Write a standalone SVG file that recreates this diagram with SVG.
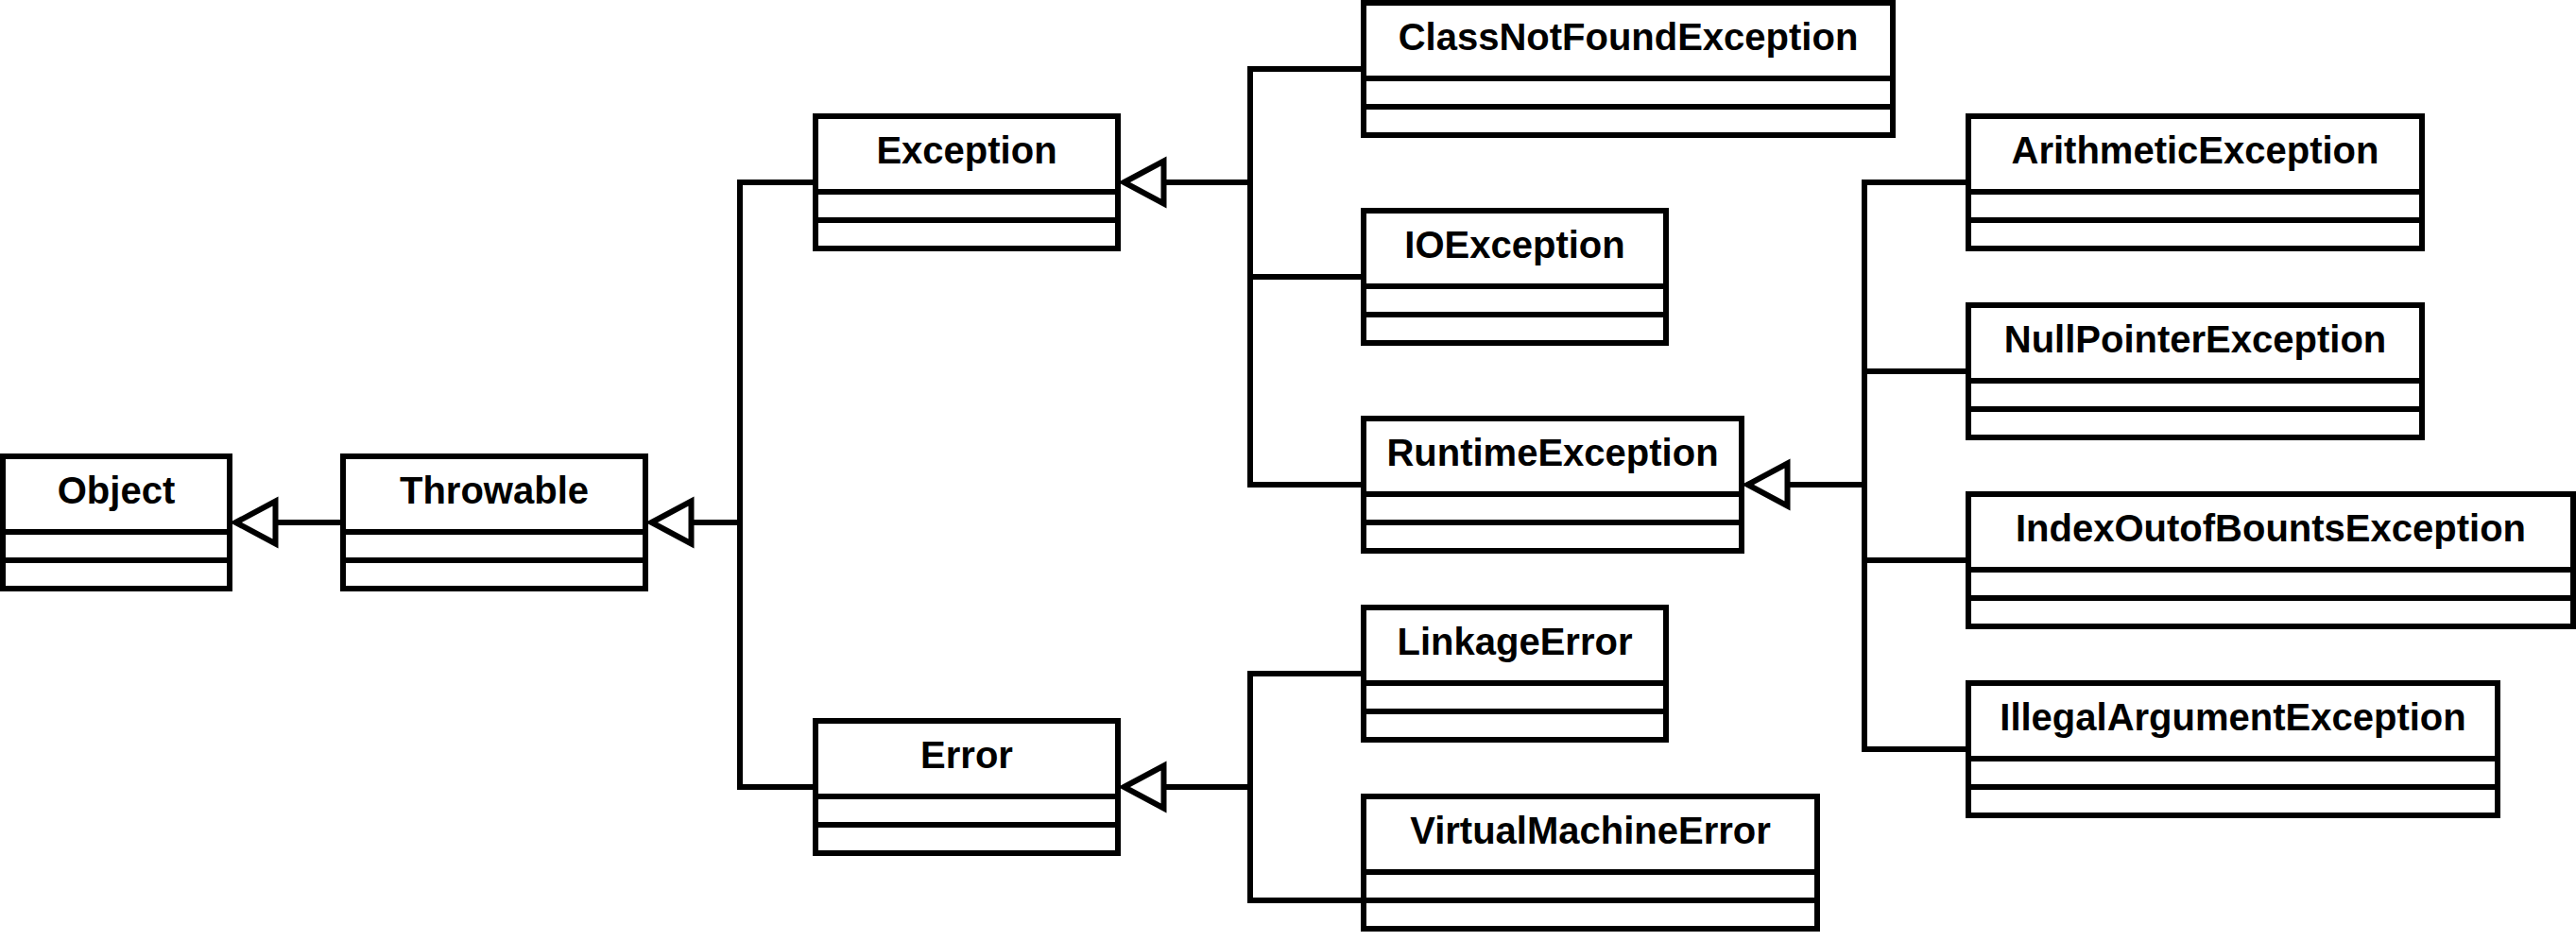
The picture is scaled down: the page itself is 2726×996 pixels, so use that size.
<svg xmlns="http://www.w3.org/2000/svg" width="2726" height="996" viewBox="0 0 2726 996">
<defs>
<style>
.box{fill:#fff;stroke:#000;stroke-width:6}
.div{stroke:#000;stroke-width:6;fill:none}
.lbl{font-family:"Liberation Sans",Arial,sans-serif;font-weight:bold;font-size:40px;fill:#000;text-anchor:middle}
.edge{fill:none;stroke:#000;stroke-width:6;stroke-linejoin:miter}
.tri{fill:#fff;stroke:#000;stroke-width:6;stroke-linejoin:miter}
</style>
</defs>
<rect width="2726" height="996" fill="#fff"/>
<g id="connectors">
<path class="edge" d="M363 553 H291.5"/>
<polygon class="tri" points="249.5,553 291.5,530.5 291.5,575.5"/>
<path class="edge" d="M863 193 H783 V833 H863"/>
<path class="edge" d="M783 553 H731.5"/>
<polygon class="tri" points="689.5,553 731.5,530.5 731.5,575.5"/>
<path class="edge" d="M1443 73 H1323 V513 H1443"/>
<path class="edge" d="M1323 293 H1443"/>
<path class="edge" d="M1323 193 H1231.5"/>
<polygon class="tri" points="1189.5,193 1231.5,170.5 1231.5,215.5"/>
<path class="edge" d="M1443 713 H1323 V953 H1443"/>
<path class="edge" d="M1323 833 H1231.5"/>
<polygon class="tri" points="1189.5,833 1231.5,810.5 1231.5,855.5"/>
<path class="edge" d="M2083 193 H1973 V793 H2083"/>
<path class="edge" d="M1973 393 H2083"/>
<path class="edge" d="M1973 593 H2083"/>
<path class="edge" d="M1973 513 H1891.5"/>
<polygon class="tri" points="1849.5,513 1891.5,490.5 1891.5,535.5"/>
</g>
<g id="Object">
<rect class="box" x="3" y="483" width="240" height="140"/>
<path class="div" d="M3 563 H243 M3 593 H243"/>
<text class="lbl" x="123" y="533">Object</text>
</g>
<g id="Throwable">
<rect class="box" x="363" y="483" width="320" height="140"/>
<path class="div" d="M363 563 H683 M363 593 H683"/>
<text class="lbl" x="523" y="533">Throwable</text>
</g>
<g id="Exception">
<rect class="box" x="863" y="123" width="320" height="140"/>
<path class="div" d="M863 203 H1183 M863 233 H1183"/>
<text class="lbl" x="1023" y="173">Exception</text>
</g>
<g id="Error">
<rect class="box" x="863" y="763" width="320" height="140"/>
<path class="div" d="M863 843 H1183 M863 873 H1183"/>
<text class="lbl" x="1023" y="813">Error</text>
</g>
<g id="ClassNotFoundException">
<rect class="box" x="1443" y="3" width="560" height="140"/>
<path class="div" d="M1443 83 H2003 M1443 113 H2003"/>
<text class="lbl" x="1723" y="53">ClassNotFoundException</text>
</g>
<g id="IOException">
<rect class="box" x="1443" y="223" width="320" height="140"/>
<path class="div" d="M1443 303 H1763 M1443 333 H1763"/>
<text class="lbl" x="1603" y="273">IOException</text>
</g>
<g id="RuntimeException">
<rect class="box" x="1443" y="443" width="400" height="140"/>
<path class="div" d="M1443 523 H1843 M1443 553 H1843"/>
<text class="lbl" x="1643" y="493">RuntimeException</text>
</g>
<g id="LinkageError">
<rect class="box" x="1443" y="643" width="320" height="140"/>
<path class="div" d="M1443 723 H1763 M1443 753 H1763"/>
<text class="lbl" x="1603" y="693">LinkageError</text>
</g>
<g id="VirtualMachineError">
<rect class="box" x="1443" y="843" width="480" height="140"/>
<path class="div" d="M1443 923 H1923 M1443 953 H1923"/>
<text class="lbl" x="1683" y="893">VirtualMachineError</text>
</g>
<g id="ArithmeticException">
<rect class="box" x="2083" y="123" width="480" height="140"/>
<path class="div" d="M2083 203 H2563 M2083 233 H2563"/>
<text class="lbl" x="2323" y="173">ArithmeticException</text>
</g>
<g id="NullPointerException">
<rect class="box" x="2083" y="323" width="480" height="140"/>
<path class="div" d="M2083 403 H2563 M2083 433 H2563"/>
<text class="lbl" x="2323" y="373">NullPointerException</text>
</g>
<g id="IndexOutofBountsException">
<rect class="box" x="2083" y="523" width="640" height="140"/>
<path class="div" d="M2083 603 H2723 M2083 633 H2723"/>
<text class="lbl" x="2403" y="573">IndexOutofBountsException</text>
</g>
<g id="IllegalArgumentException">
<rect class="box" x="2083" y="723" width="560" height="140"/>
<path class="div" d="M2083 803 H2643 M2083 833 H2643"/>
<text class="lbl" x="2363" y="773">IllegalArgumentException</text>
</g>
</svg>
